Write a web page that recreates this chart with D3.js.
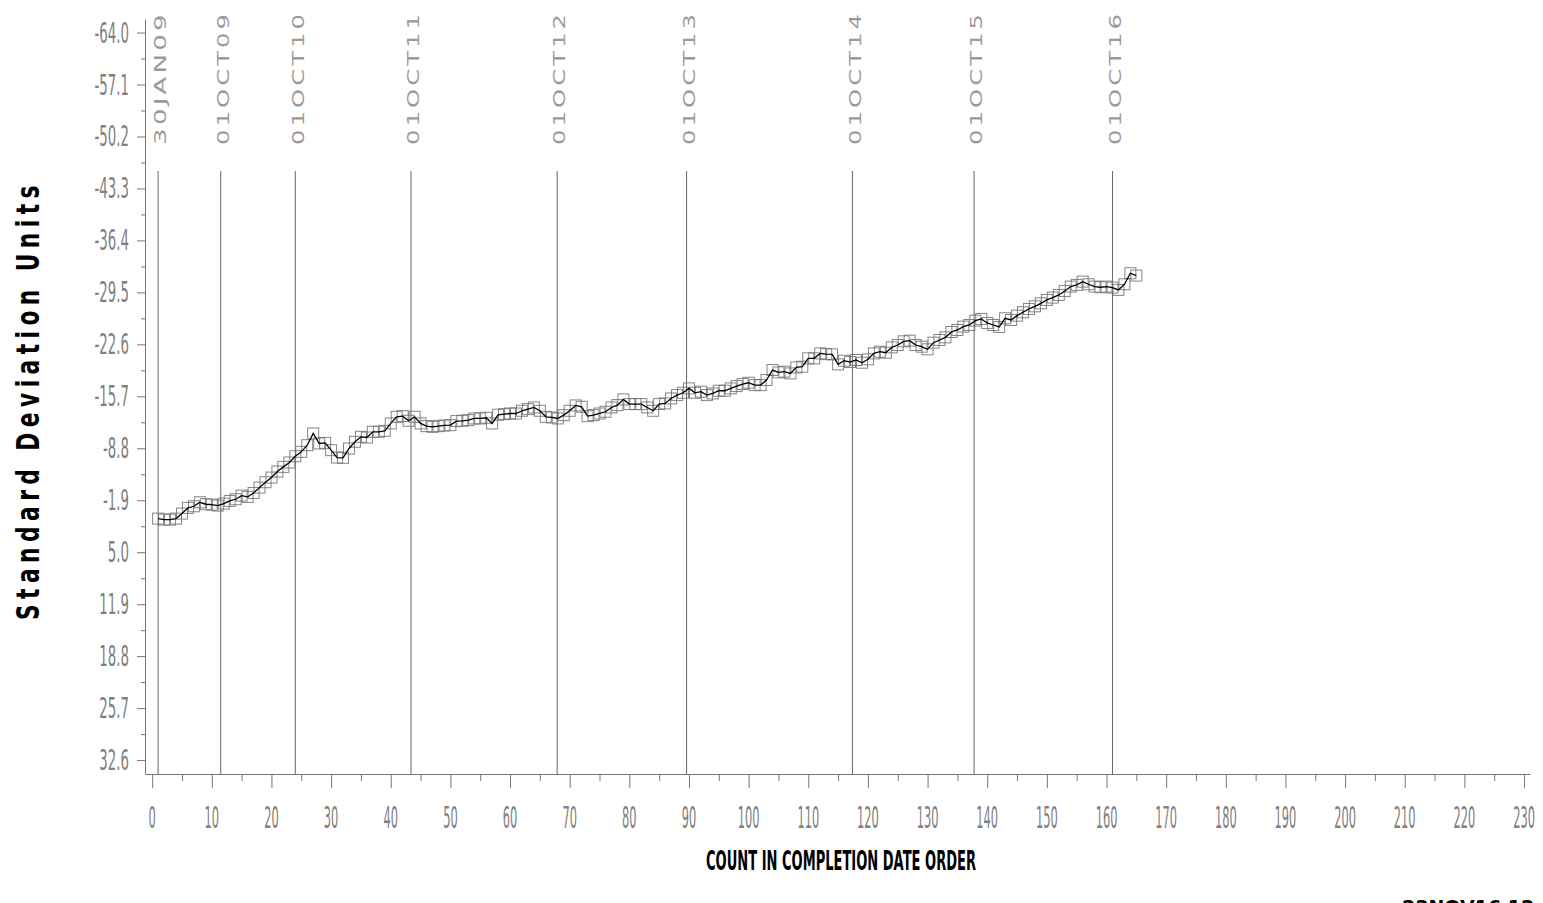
<!DOCTYPE html>
<html><head><meta charset="utf-8">
<script src="https://cdn.jsdelivr.net/npm/d3@7"></script>
<style>html,body{margin:0;padding:0;background:#fff;overflow:hidden}</style>
</head><body>
<svg id="chart" width="1543" height="903"></svg>
<script>
// ---- data ----
const sdValues = [
  0.54, 0.67, 0.67, 0.54, -0.13, -0.88, -1.10, -1.63, -1.37, -1.32,
  -1.19, -1.46, -1.81, -2.03, -2.52, -2.34, -2.87, -3.58, -4.29, -4.91,
  -5.71, -6.33, -6.91, -7.75, -8.33, -9.21, -10.77, -9.44, -9.52, -8.55,
  -7.57, -7.53, -8.77, -9.66, -10.32, -10.23, -10.99, -10.99, -11.12, -12.10,
  -12.98, -13.07, -12.45, -12.98, -12.10, -11.74, -11.65, -11.74, -11.83, -11.87,
  -12.41, -12.45, -12.54, -12.76, -12.76, -12.85, -12.10, -13.25, -13.34, -13.42,
  -13.42, -13.78, -14.00, -14.22, -13.78, -12.98, -12.89, -12.76, -13.20, -13.78,
  -14.49, -14.31, -13.07, -13.20, -13.42, -13.65, -14.22, -14.53, -15.29, -14.67,
  -14.67, -14.67, -14.22, -13.78, -14.67, -14.76, -15.42, -15.86, -16.17, -16.75,
  -16.17, -16.31, -15.86, -16.08, -16.44, -16.44, -16.75, -17.06, -17.33, -17.50,
  -17.19, -17.19, -17.86, -19.19, -18.88, -18.97, -18.74, -19.54, -19.63, -20.74,
  -20.74, -21.40, -21.31, -21.27, -19.94, -20.43, -20.25, -20.52, -20.16, -20.61,
  -21.40, -21.62, -21.49, -22.20, -22.51, -23.00, -23.09, -22.51, -22.29, -21.94,
  -22.82, -23.18, -23.53, -24.24, -24.51, -24.95, -25.17, -25.75, -25.97, -25.44,
  -25.17, -24.91, -26.06, -25.84, -26.41, -26.86, -27.30, -27.65, -28.05, -28.50,
  -28.81, -29.16, -29.69, -30.27, -30.49, -30.93, -30.58, -30.27, -30.18, -30.27,
  -30.14, -29.83, -30.58, -32.04, -31.73
];
const dateMarkerCounts = [1, 11.5, 24, 43.4, 67.9, 89.6, 117.4, 137.8, 161];
const dateMarkerLabels = ["30JAN09","01OCT09","01OCT10","01OCT11","01OCT12","01OCT13","01OCT14","01OCT15","01OCT16"];
const yTickValues = [-64.0,-57.1,-50.2,-43.3,-36.4,-29.5,-22.6,-15.7,-8.8,-1.9,5.0,11.9,18.8,25.7,32.6];
const yTickLabels = ["-64.0","-57.1","-50.2","-43.3","-36.4","-29.5","-22.6","-15.7","-8.8","-1.9","5.0","11.9","18.8","25.7","32.6"];
const xTickValues = [0,10,20,30,40,50,60,70,80,90,100,110,120,130,140,150,160,170,180,190,200,210,220,230];
const xTickLabels = ["0","10","20","30","40","50","60","70","80","90","100","110","120","130","140","150","160","170","180","190","200","210","220","230"];
const yTitle = "Standard Deviation Units";
const xTitle = "COUNT IN COMPLETION DATE ORDER";
const stampText = "23NOV16 12:33";

// ---- scales ----
const svg = d3.select("#chart");
const x = d3.scaleLinear().domain([-1.2, 231]).range([145, 1530]);
const y = d3.scaleLinear().domain([-65.8, 34.45]).range([19, 774]);
const axisColor = "#777";

// ---- axes ----
const yMinor = yTickValues.slice(0, -1).map((v, i) => (v + yTickValues[i + 1]) / 2);
const xMinor = xTickValues.slice(0, -1).map((v, i) => (v + xTickValues[i + 1]) / 2);

svg.append("g").attr("transform", "translate(145,0)")
  .call(d3.axisLeft(y).tickValues(yTickValues).tickSize(8).tickSizeOuter(0).tickFormat(""));
const gyMinor = svg.append("g").attr("transform", "translate(145,0)")
  .call(d3.axisLeft(y).tickValues(yMinor).tickSize(4).tickSizeOuter(0).tickFormat(""));
gyMinor.select(".domain").remove();

svg.append("g").attr("transform", "translate(0,774)")
  .call(d3.axisBottom(x).tickValues(xTickValues).tickSize(14).tickSizeOuter(0).tickFormat(""));
const gxMinor = svg.append("g").attr("transform", "translate(0,774)")
  .call(d3.axisBottom(x).tickValues(xMinor).tickSize(7).tickSizeOuter(0).tickFormat(""));
gxMinor.select(".domain").remove();

svg.selectAll(".domain, .tick line").attr("stroke", axisColor).attr("stroke-width", 1);

// y tick labels (condensed, thin look)
svg.append("g").selectAll("text").data(yTickValues).join("text")
  .attr("transform", d => `translate(129,${y(d) + 10}) scale(0.46,1)`)
  .attr("text-anchor", "end")
  .attr("font-family", "DejaVu Sans")
  .attr("font-size", 29)
  .attr("fill", "#808080")
  .text((d, i) => yTickLabels[i]);

// x tick labels
svg.append("g").selectAll("text").data(xTickValues).join("text")
  .attr("transform", d => `translate(${x(d)},828) scale(0.38,1)`)
  .attr("text-anchor", "middle")
  .attr("font-family", "DejaVu Sans")
  .attr("font-size", 30)
  .attr("fill", "#808080")
  .text((d, i) => xTickLabels[i]);

// ---- date reference lines & labels ----
svg.append("g").selectAll("line").data(dateMarkerCounts).join("line")
  .attr("x1", d => x(d)).attr("x2", d => x(d))
  .attr("y1", 171).attr("y2", 774)
  .attr("stroke", "#666").attr("stroke-width", 1);

svg.append("g").selectAll("text").data(dateMarkerCounts).join("text")
  .attr("transform", d => `translate(${x(d) + 2.5},145) rotate(-90)`)
  .attr("dy", "0.36em")
  .attr("font-family", "DejaVu Sans")
  .attr("font-size", 16)
  .attr("letter-spacing", 2)
  .attr("textLength", 134)
  .attr("lengthAdjust", "spacingAndGlyphs")
  .attr("fill", "#9a9a9a")
  .text((d, i) => dateMarkerLabels[i]);

// ---- data ----
const pts = sdValues.map((v, i) => ({ c: i + 1, v }));
svg.append("g").selectAll("rect").data(pts).join("rect")
  .attr("x", d => x(d.c) - 5.5).attr("y", d => y(d.v) - 5.5)
  .attr("width", 11).attr("height", 11)
  .attr("fill", "none").attr("stroke", "#6f6f6f").attr("stroke-opacity", 0.85).attr("stroke-width", 1);

svg.append("path").datum(pts)
  .attr("d", d3.line().x(d => x(d.c)).y(d => y(d.v)))
  .attr("fill", "none").attr("stroke", "#000").attr("stroke-width", 1.3);

// ---- titles ----
svg.append("text")
  .attr("transform", "translate(27,620) rotate(-90) scale(0.68,1)")
  .attr("dy", "0.36em")
  .attr("font-family", "DejaVu Sans")
  .attr("font-weight", "bold")
  .attr("font-size", 32)
  .attr("letter-spacing", 8)
  .attr("fill", "#000")
  .text(yTitle);

svg.append("text")
  .attr("x", 706).attr("y", 870)
  .attr("font-family", "DejaVu Sans")
  .attr("font-weight", "bold")
  .attr("font-size", 26)
  .attr("textLength", 270)
  .attr("lengthAdjust", "spacingAndGlyphs")
  .attr("fill", "#000")
  .text(xTitle);

// timestamp: partly below the bottom edge, as in the reference
svg.append("text")
  .attr("x", 1402).attr("y", 914)
  .attr("font-family", "DejaVu Sans")
  .attr("font-weight", "bold")
  .attr("font-size", 19)
  .attr("fill", "#000")
  .text(stampText);
</script>
</body></html>
